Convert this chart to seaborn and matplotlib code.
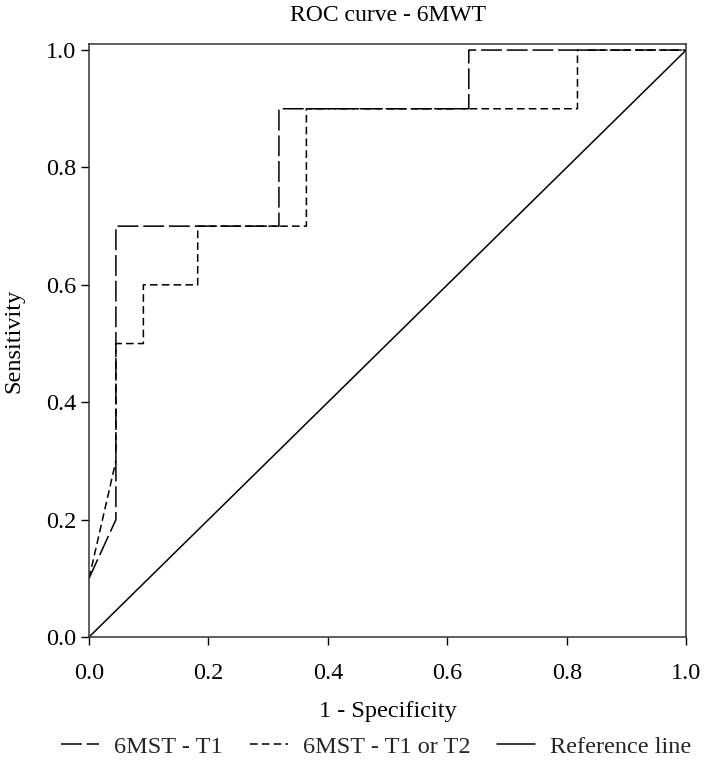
import matplotlib
matplotlib.use("Agg")
import matplotlib.pyplot as plt
import seaborn as sns
import pandas as pd

# Data
fpr_t1 = [0.0, 0.045, 0.045, 0.318, 0.318, 0.636, 0.636, 1.0]
tpr_t1 = [0.1, 0.2, 0.7, 0.7, 0.9, 0.9, 1.0, 1.0]

fpr_t12 = [0.0, 0.045, 0.045, 0.091, 0.091, 0.182, 0.182, 0.364, 0.364, 0.818, 0.818, 1.0]
tpr_t12 = [0.1, 0.3, 0.5, 0.5, 0.6, 0.6, 0.7, 0.7, 0.9, 0.9, 1.0, 1.0]

ref_x = [0.0, 1.0]
ref_y = [0.0, 1.0]

labels = ["6MST - T1", "6MST - T1 or T2", "Reference line"]
ticks = [0.0, 0.2, 0.4, 0.6, 0.8, 1.0]
tick_labels = ["0.0", "0.2", "0.4", "0.6", "0.8", "1.0"]

sns.set_theme(style="ticks")
plt.rcParams["font.family"] = ["Liberation Serif", "DejaVu Serif"]
plt.rcParams["lines.scale_dashes"] = False

FS = 17.5

fig = plt.figure(figsize=(7.10, 7.62), dpi=100)
ax = fig.add_axes([0.1254, 0.164, 0.841, 0.778])

df1 = pd.DataFrame({"x": fpr_t1, "y": tpr_t1})
df2 = pd.DataFrame({"x": fpr_t12, "y": tpr_t12})
df3 = pd.DataFrame({"x": ref_x, "y": ref_y})

lw = 1.1
sns.lineplot(data=df1, x="x", y="y", sort=False, estimator=None, ax=ax,
             color="black", linewidth=lw, label=labels[0])
sns.lineplot(data=df2, x="x", y="y", sort=False, estimator=None, ax=ax,
             color="black", linewidth=lw, label=labels[1])
sns.lineplot(data=df3, x="x", y="y", sort=False, estimator=None, ax=ax,
             color="black", linewidth=lw, label=labels[2])

lines = ax.get_lines()
lines[0].set_dashes((15, 3.5))
lines[1].set_dashes((5.5, 3))

ax.set_xlim(0, 1.0)
ax.set_ylim(0, 1.01)
ax.set_xticks(ticks)
ax.set_xticklabels(tick_labels)
ax.set_yticks(ticks)
ax.set_yticklabels(tick_labels)
ax.tick_params(axis="both", direction="out", length=6, width=1.0,
               labelsize=FS, colors="black")
ax.tick_params(axis="x", pad=13)
ax.tick_params(axis="y", pad=3)
for s in ax.spines.values():
    s.set_visible(True)
    s.set_color("#333333")
    s.set_linewidth(1.1)

ax.set_xlabel("1 - Specificity", fontsize=FS, color="black", labelpad=12)
ax.set_ylabel("Sensitivity", fontsize=FS, color="black", labelpad=16)
ax.set_title("ROC curve - 6MWT", fontsize=17, color="black", pad=17)

ax.legend_.remove()
handles, _ = ax.get_legend_handles_labels()
fig.legend(handles, labels, loc="center", bbox_to_anchor=(0.53, 0.02),
           ncol=3, frameon=False, fontsize=FS, handlelength=1.56,
           columnspacing=1.1, handletextpad=0.62)

fig.savefig("out.png", dpi=100)
